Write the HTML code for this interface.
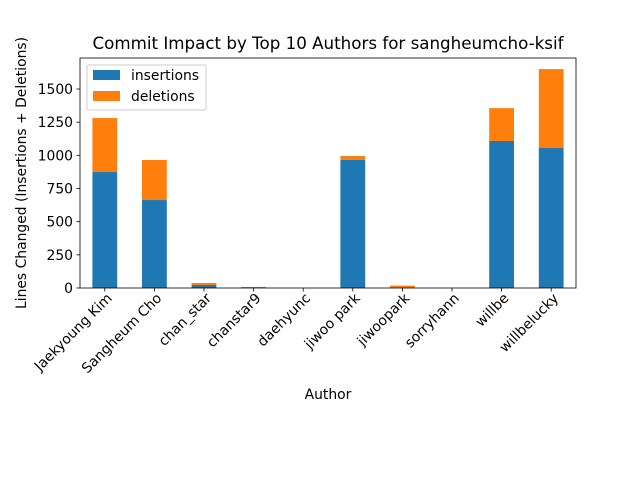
<!DOCTYPE html>
<html><head><meta charset="utf-8"><style>
body{margin:0;background:#fff}
svg{font-family:"DejaVu Sans","Liberation Sans",sans-serif}
</style></head><body>
<svg width="640" height="480" id="c"></svg>
<script>
const categories=["Jaekyoung Kim","Sangheum Cho","chan_star","chanstar9","daehyunc","jiwoo park","jiwoopark","sorryhann","willbe","willbelucky"];
const insertions=[874,663,23,3,0,965,5,0,1108,1055];
const deletions=[407,302,15,5,0,30,13,0,248,595];
const yTicks=[0,250,500,750,1000,1250,1500];
const NS="http://www.w3.org/2000/svg";
const svg=document.getElementById('c');
const L=80,R=576,T=58,B=288;
const y=v=>B-v*0.13267;
const step=(R-L)/categories.length;
const x=i=>L+step*(i+0.5);
function el(t,a,txt){const e=document.createElementNS(NS,t);for(const k in a)e.setAttribute(k,a[k]);if(txt!=null)e.textContent=txt;svg.appendChild(e);return e;}
categories.forEach((c,i)=>{
 const b1=el('rect',{x:x(i)-step/4,y:y(insertions[i]),width:step/2,height:B-y(insertions[i]),fill:'#1f77b4'});
 
 
 const t=insertions[i]+deletions[i];
 const b2=el('rect',{x:x(i)-step/4,y:y(t),width:step/2,height:y(insertions[i])-y(t),fill:'#ff7f0e'});
 
 
 el('line',{x1:x(i),x2:x(i),y1:B,y2:B+3.5,stroke:'#000','stroke-width':0.8});
 const lx=x(i)+8,ly=B+11;
 const lb=el('text',{x:lx,y:ly,'font-size':13.9,'text-anchor':'end',transform:`rotate(-45 ${lx} ${ly})`},c);
 
 
});
yTicks.forEach(v=>{
 el('line',{x1:L-3.5,x2:L,y1:y(v),y2:y(v),stroke:'#000','stroke-width':0.8});
 const t=el('text',{x:L-7,y:y(v)+5,'font-size':13.9,'text-anchor':'end'},v);
 
 
});
el('rect',{x:L,y:T,width:R-L,height:B-T,fill:'none',stroke:'#000','stroke-width':0.8});
el('text',{x:328,y:49,'font-size':16.7,'text-anchor':'middle'},'Commit Impact by Top 10 Authors for sangheumcho-ksif');
el('text',{x:328,y:399,'font-size':13.9,'text-anchor':'middle'},'Author');
el('text',{x:26,y:173,'font-size':13.9,'text-anchor':'middle',transform:'rotate(-90 26 173)'},'Lines Changed (Insertions + Deletions)');
const lg=el('rect',{x:87,y:65,width:119,height:45,fill:'#fff',stroke:'#ccc',rx:2});


el('rect',{x:93,y:70,width:27,height:10,fill:'#1f77b4'});
el('text',{x:131,y:80,'font-size':13.9},'insertions');
el('rect',{x:93,y:91,width:27,height:10,fill:'#ff7f0e'});
el('text',{x:131,y:101,'font-size':13.9},'deletions');
</script>
</body></html>
